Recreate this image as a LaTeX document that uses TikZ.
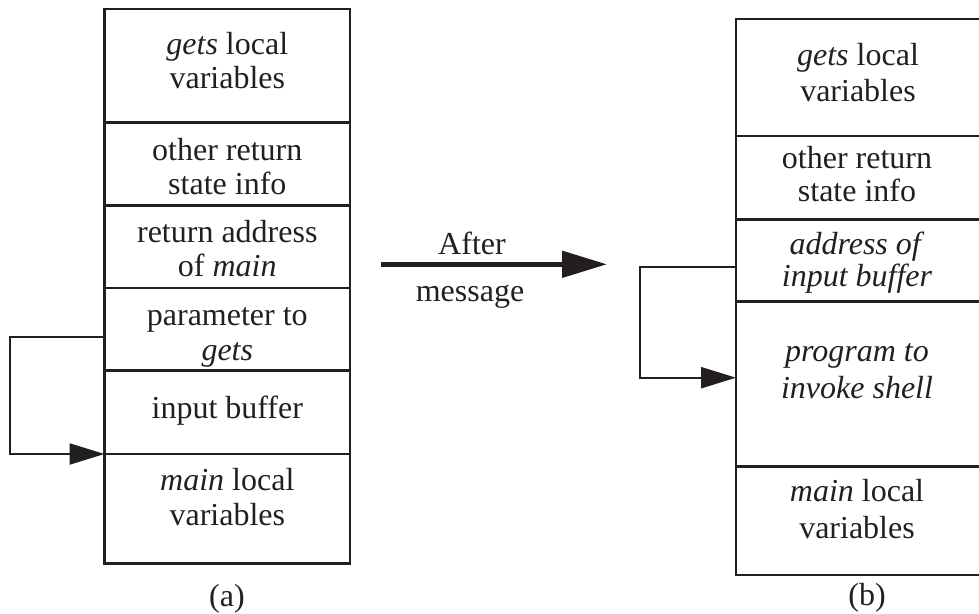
\documentclass[tikz,border=0pt]{standalone}
\usepackage{fontspec}
\setmainfont{Liberation Serif}
\usetikzlibrary{arrows.meta}
\definecolor{ink}{HTML}{231F20}
\begin{document}
\begin{tikzpicture}[x=1pt,y=-1pt,
  cell/.style={draw=ink,line width=2.7pt,inner sep=0pt,outer sep=0pt,rectangle},
  lbl/.style={text=ink,inner sep=0pt,anchor=base,font=\fontsize{32}{34}\selectfont},
  conn/.style={draw=ink,line width=2.3pt,-{Triangle[length=35pt,width=21pt]}},
  bigarrow/.style={draw=ink,line width=5pt,-{Triangle[length=45pt,width=26pt]}}]
\useasboundingbox (0,0) rectangle (979,613);
% left stack
\node[cell,minimum width=245.5pt,minimum height=113.7pt] (a1) at (227.25,65.85) {};
\node[cell,minimum width=245.5pt,minimum height=83pt] (a2) at (227.25,164.2) {};
\node[cell,minimum width=245.5pt,minimum height=82.2pt] (a3) at (227.25,246.8) {};
\node[cell,minimum width=245.5pt,minimum height=82.8pt] (a4) at (227.25,329.3) {};
\node[cell,minimum width=245.5pt,minimum height=83.3pt] (a5) at (227.25,412.35) {};
\node[cell,minimum width=245.5pt,minimum height=109.3pt] (a6) at (227.25,508.65) {};
\node[lbl] (ta1a) at (227.3,54) {\textit{gets} local};
\node[lbl] (ta1b) at (227.3,88.3) {variables};
\node[lbl] (ta2a) at (227.3,160.7) {other return};
\node[lbl] (ta2b) at (227.3,194) {state info};
\node[lbl] (ta3a) at (227.3,242.3) {return address};
\node[lbl] (ta3b) at (227.3,276.7) {of \textit{main}};
\node[lbl] (ta4a) at (227.3,325) {parameter to};
\node[lbl] (ta4b) at (227.3,360) {\textit{gets}};
\node[lbl] (ta5a) at (227.3,418.3) {input buffer};
\node[lbl] (ta6a) at (227.3,490.7) {\textit{main} local};
\node[lbl] (ta6b) at (227.3,525) {variables};
\node[lbl] (capa) at (227,606) {(a)};
% right stack
\node[cell,minimum width=245pt,minimum height=117pt] (b1) at (858.5,77.5) {};
\node[cell,minimum width=245pt,minimum height=83.3pt] (b2) at (858.5,177.65) {};
\node[cell,minimum width=245pt,minimum height=82.4pt] (b3) at (858.5,260.5) {};
\node[cell,minimum width=245pt,minimum height=165pt] (b4) at (858.5,384.2) {};
\node[cell,minimum width=245pt,minimum height=108.3pt] (b5) at (858.5,520.85) {};
\node[lbl] (tb1a) at (858,65) {\textit{gets} local};
\node[lbl] (tb1b) at (858,101) {variables};
\node[lbl] (tb2a) at (857,168.3) {other return};
\node[lbl] (tb2b) at (857,201.7) {state info};
\node[lbl] (tb3a) at (857,254) {\textit{address of}};
\node[lbl] (tb3b) at (857,286.7) {\textit{input buffer}};
\node[lbl] (tb4a) at (857,361.7) {\textit{program to}};
\node[lbl] (tb4b) at (857,398.3) {\textit{invoke shell}};
\node[lbl] (tb5a) at (857,501.7) {\textit{main} local};
\node[lbl] (tb5b) at (857,538) {variables};
\node[lbl] (capb) at (867,605) {(b)};
% middle arrow
\coordinate (m1) at (381,264.3);
\coordinate (m2) at (607,264.3);
\draw[bigarrow] (m1) -- (m2);
\node[lbl] (after) at (472,254.3) {After};
\node[lbl] (msg) at (470,301.7) {message};
% pointer connectors
\coordinate (la) at (10,336.7);
\draw[conn] ([yshift=-7.4pt]a4.west) -- (la) |- (a6.north west);
\coordinate (rb) at (640,266.7);
\draw[conn] ([yshift=-6.2pt]b3.west) -- (rb) |- ([yshift=6.5pt]b4.west);
\end{tikzpicture}
\end{document}
